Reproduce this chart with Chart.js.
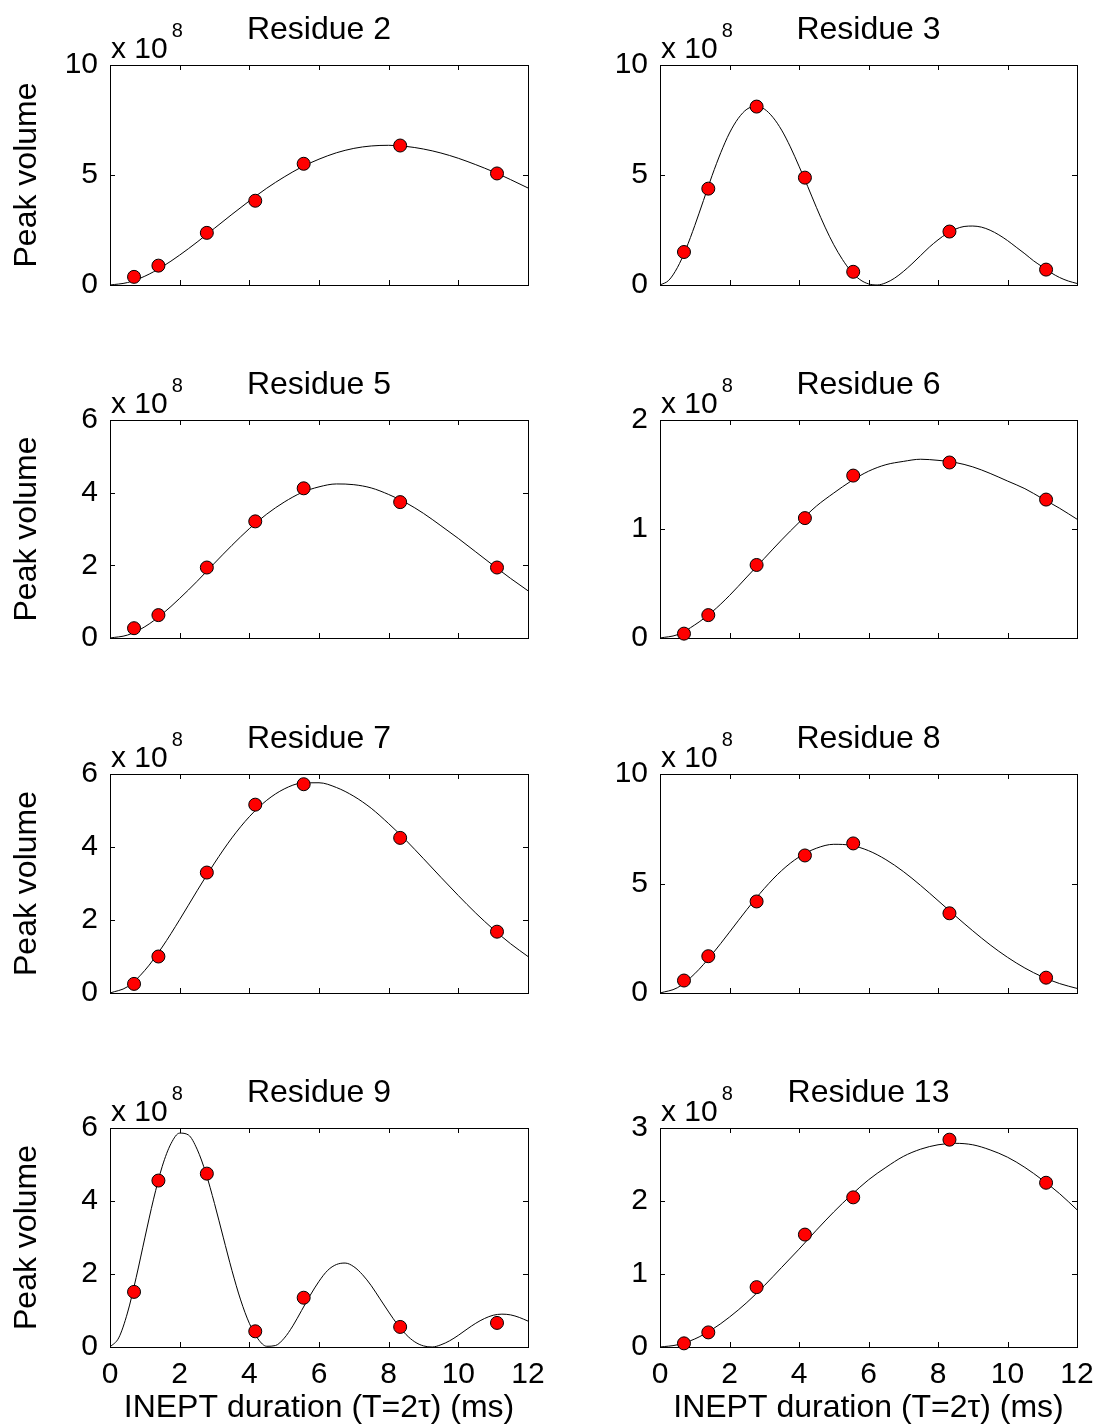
<!DOCTYPE html>
<html>
<head>
<meta charset="utf-8">
<script src="https://cdn.jsdelivr.net/npm/chart.js@4.4.1/dist/chart.umd.min.js"></script>
<style>
  html, body { margin: 0; padding: 0; background: #fff; }
  #page { position: relative; width: 1101px; height: 1427px; background: #fff; }
  #page canvas { position: absolute; }
</style>
</head>
<body>
<div id="page"></div>
<script>
// INEPT delays (ms) where peak volumes were measured
const delays = [0.69, 1.39, 2.78, 4.17, 5.56, 8.33, 11.11];

// measured peak volumes (x 1e8)
const res2Vol = [0.37, 0.88, 2.37, 3.83, 5.51, 6.34, 5.07];
const res3Vol = [1.50, 4.38, 8.11, 4.88, 0.60, 2.43, 0.70];
const res5Vol = [0.27, 0.63, 1.94, 3.21, 4.12, 3.74, 1.94];
const res6Vol = [0.04, 0.21, 0.67, 1.10, 1.49, 1.61, 1.27];
const res7Vol = [0.25, 1.00, 3.30, 5.16, 5.72, 4.25, 1.68];
const res8Vol = [0.57, 1.68, 4.18, 6.28, 6.83, 3.64, 0.70];
const res9Vol = [1.51, 4.56, 4.75, 0.43, 1.35, 0.55, 0.66];
const res13Vol = [0.05, 0.20, 0.82, 1.54, 2.05, 2.84, 2.25];

// fitted curves, sampled every 0.5 ms (0.25 ms for the fast oscillating ones)
const fitGrid = [0, 0.5, 1, 1.5, 2, 2.5, 3, 3.5, 4, 4.5, 5, 5.5, 6, 6.5, 7, 7.5, 8, 8.5, 9, 9.5, 10, 10.5, 11, 11.5, 12];
const fitGridFine = [0, 0.25, 0.5, 0.75, 1, 1.25, 1.5, 1.75, 2, 2.25, 2.5, 2.75, 3, 3.25, 3.5, 3.75, 4, 4.25, 4.5, 4.75,
  5, 5.25, 5.5, 5.75, 6, 6.25, 6.5, 6.75, 7, 7.25, 7.5, 7.75, 8, 8.25, 8.5, 8.75, 9, 9.25, 9.5, 9.75,
  10, 10.25, 10.5, 10.75, 11, 11.25, 11.5, 11.75, 12];

const res2Fit = [0, 0.11, 0.40, 0.83, 1.36, 1.95, 2.58, 3.21, 3.82, 4.40, 4.91, 5.36, 5.72, 6.01, 6.21, 6.32, 6.35, 6.30, 6.18, 6.00, 5.76, 5.47, 5.15, 4.79, 4.41];
const res3Fit = [0, 0.21, 0.79, 1.65, 2.70, 3.84, 4.98, 6.02, 6.91, 7.57, 7.99, 8.12, 8.00, 7.62, 7.04, 6.28, 5.40, 4.48, 3.53, 2.63,
  1.83, 1.16, 0.62, 0.25, 0.05, 0.00, 0.10, 0.31, 0.61, 0.96, 1.34, 1.72, 2.05, 2.33, 2.54, 2.66, 2.68, 2.63, 2.49, 2.28,
  2.02, 1.72, 1.42, 1.10, 0.83, 0.56, 0.34, 0.18, 0.07];
const res5Fit = [0, 0.08, 0.31, 0.66, 1.09, 1.56, 2.06, 2.55, 3.01, 3.41, 3.74, 4.00, 4.16, 4.24, 4.22, 4.13, 3.95, 3.72, 3.43, 3.09, 2.74, 2.37, 2.00, 1.64, 1.30];
const res6Fit = [0, 0.03, 0.12, 0.24, 0.39, 0.56, 0.73, 0.90, 1.06, 1.21, 1.33, 1.44, 1.53, 1.59, 1.62, 1.64, 1.63, 1.61, 1.57, 1.51, 1.44, 1.37, 1.28, 1.19, 1.09];
const res7Fit = [0, 0.17, 0.62, 1.26, 2.01, 2.80, 3.56, 4.25, 4.83, 5.28, 5.59, 5.75, 5.76, 5.63, 5.39, 5.06, 4.64, 4.18, 3.68, 3.17, 2.67, 2.19, 1.75, 1.35, 1.00];
const res8Fit = [0, 0.24, 0.88, 1.77, 2.78, 3.81, 4.77, 5.59, 6.21, 6.61, 6.79, 6.74, 6.50, 6.09, 5.55, 4.91, 4.22, 3.52, 2.84, 2.20, 1.63, 1.14, 0.74, 0.43, 0.21];
const res9Fit = [0, 0.25, 0.93, 1.90, 2.99, 4.05, 4.95, 5.57, 5.86, 5.81, 5.42, 4.77, 3.93, 3.01, 2.10, 1.29, 0.65, 0.22, 0.02, 0.04,
  0.24, 0.58, 1.00, 1.42, 1.80, 2.10, 2.26, 2.30, 2.20, 1.98, 1.68, 1.32, 0.96, 0.62, 0.34, 0.14, 0.03, 0.00, 0.06, 0.17,
  0.32, 0.49, 0.65, 0.78, 0.87, 0.90, 0.88, 0.81, 0.71];
const res13Fit = [0, 0.03, 0.11, 0.24, 0.41, 0.61, 0.84, 1.09, 1.34, 1.60, 1.85, 2.08, 2.29, 2.46, 2.61, 2.71, 2.77, 2.79, 2.77, 2.70, 2.60, 2.46, 2.29, 2.10, 1.88];

const panels = [
  { title: "Residue 2", vol: res2Vol, fitX: fitGrid, fit: res2Fit, yMax: 10, yStep: 5 },
  { title: "Residue 3", vol: res3Vol, fitX: fitGridFine, fit: res3Fit, yMax: 10, yStep: 5 },
  { title: "Residue 5", vol: res5Vol, fitX: fitGrid, fit: res5Fit, yMax: 6, yStep: 2 },
  { title: "Residue 6", vol: res6Vol, fitX: fitGrid, fit: res6Fit, yMax: 2, yStep: 1 },
  { title: "Residue 7", vol: res7Vol, fitX: fitGrid, fit: res7Fit, yMax: 6, yStep: 2 },
  { title: "Residue 8", vol: res8Vol, fitX: fitGrid, fit: res8Fit, yMax: 10, yStep: 5 },
  { title: "Residue 9", vol: res9Vol, fitX: fitGridFine, fit: res9Fit, yMax: 6, yStep: 2 },
  { title: "Residue 13", vol: res13Vol, fitX: fitGrid, fit: res13Fit, yMax: 3, yStep: 1 },
];

const xTitle = "INEPT duration (T=2\u03c4) (ms)";
const yTitle = "Peak volume";

// grid of canvases: column / row boxes and where the axes frame sits inside each
const cols = [
  { left: 0, width: 550, plotLeft: 110, plotRight: 528 },
  { left: 550, width: 551, plotLeft: 110, plotRight: 527 },
];
const rows = [
  { top: 0, height: 355, plotTop: 65, plotBottom: 285 },
  { top: 355, height: 355, plotTop: 65, plotBottom: 283 },
  { top: 709, height: 355, plotTop: 65, plotBottom: 284 },
  { top: 1064, height: 363, plotTop: 64, plotBottom: 283 },
];

const FONT = '"Liberation Sans", Arial, Helvetica, sans-serif';
const tickFont = { family: FONT, size: 30 };
const labelFont = { family: FONT, size: 32, lineHeight: 1.2 };

// box, inward tick marks, panel title and the x 10^8 multiplier
const panelDecor = {
  id: "panelDecor",
  beforeDatasetsDraw(chart) {
    const { ctx, chartArea: a, scales } = chart;
    const len = 5;
    ctx.save();
    ctx.strokeStyle = "#000";
    ctx.lineWidth = 1;
    ctx.beginPath();
    scales.x.ticks.forEach((t) => {
      const px = Math.round(scales.x.getPixelForValue(t.value)) + 0.5;
      ctx.moveTo(px, a.bottom);
      ctx.lineTo(px, a.bottom - len);
      ctx.moveTo(px, a.top);
      ctx.lineTo(px, a.top + len);
    });
    scales.y.ticks.forEach((t) => {
      const py = Math.round(scales.y.getPixelForValue(t.value)) + 0.5;
      ctx.moveTo(a.left, py);
      ctx.lineTo(a.left + len, py);
      ctx.moveTo(a.right, py);
      ctx.lineTo(a.right - len, py);
    });
    ctx.stroke();
    ctx.strokeRect(a.left + 0.5, a.top + 0.5, a.right - a.left, a.bottom - a.top);
    ctx.restore();
  },
  afterDraw(chart, args, opts) {
    const { ctx, chartArea: a } = chart;
    ctx.save();
    ctx.fillStyle = "#000";
    ctx.textBaseline = "alphabetic";
    ctx.textAlign = "center";
    ctx.font = `32px ${FONT}`;
    ctx.fillText(opts.title, (a.left + a.right) / 2, a.top - 26);
    ctx.textAlign = "left";
    ctx.font = `30px ${FONT}`;
    ctx.fillText("x 10", a.left + 1, a.top - 7);
    const w = ctx.measureText("x 10").width;
    ctx.font = `20px ${FONT}`;
    ctx.fillText("8", a.left + 1 + w + 4, a.top - 28);
    ctx.restore();
  },
};

const page = document.getElementById("page");

panels.forEach((p, i) => {
  const col = cols[i % 2];
  const row = rows[Math.floor(i / 2)];
  const isBottom = i >= panels.length - 2;
  const xAxisH = isBottom ? row.height - row.plotBottom : 0;

  const canvas = document.createElement("canvas");
  canvas.width = col.width;
  canvas.height = row.height;
  canvas.style.left = col.left + "px";
  canvas.style.top = row.top + "px";
  page.appendChild(canvas);

  new Chart(canvas, {
    type: "scatter",
    data: {
      datasets: [
        {
          data: delays.map((t, k) => ({ x: t, y: p.vol[k] })),
          showLine: false,
          pointRadius: 6.5,
          pointBackgroundColor: "#ff0000",
          pointBorderColor: "#000",
          pointBorderWidth: 1,
          borderWidth: 1,
          clip: false,
        },
        {
          type: "line",
          data: p.fitX.map((t, k) => ({ x: t, y: p.fit[k] })),
          borderColor: "#000",
          borderWidth: 1,
          pointRadius: 0,
          cubicInterpolationMode: "monotone",
          fill: false,
        },
      ],
    },
    options: {
      responsive: false,
      animation: false,
      devicePixelRatio: 1,
      events: [],
      layout: {
        padding: {
          left: 0,
          top: row.plotTop,
          right: col.width - col.plotRight,
          bottom: row.height - row.plotBottom - xAxisH,
        },
      },
      plugins: {
        legend: { display: false },
        tooltip: { enabled: false },
        title: { display: false },
        panelDecor: { title: p.title },
      },
      scales: {
        x: {
          type: "linear",
          min: 0,
          max: 12,
          ticks: { stepSize: 2, display: isBottom, font: tickFont, color: "#000", padding: 10, maxRotation: 0, autoSkip: false },
          grid: { display: false, drawTicks: false },
          border: { display: false },
          title: { display: isBottom, text: xTitle, font: labelFont, color: "#000", padding: { top: 0, bottom: 0 } },
          afterFit(scale) {
            scale.height = xAxisH;
            scale.paddingLeft = 0;
            scale.paddingRight = 0;
          },
        },
        y: {
          type: "linear",
          min: 0,
          max: p.yMax,
          ticks: { stepSize: p.yStep, font: tickFont, color: "#000", padding: 12 },
          grid: { display: false, drawTicks: false },
          border: { display: false },
          title: { display: i % 2 === 0, text: yTitle, font: labelFont, color: "#000", padding: { top: 8, bottom: 0 } },
          afterFit(scale) {
            scale.width = col.plotLeft;
            scale.paddingTop = 0;
            scale.paddingBottom = 0;
          },
        },
      },
    },
    plugins: [panelDecor],
  });
});
</script>
</body>
</html>
